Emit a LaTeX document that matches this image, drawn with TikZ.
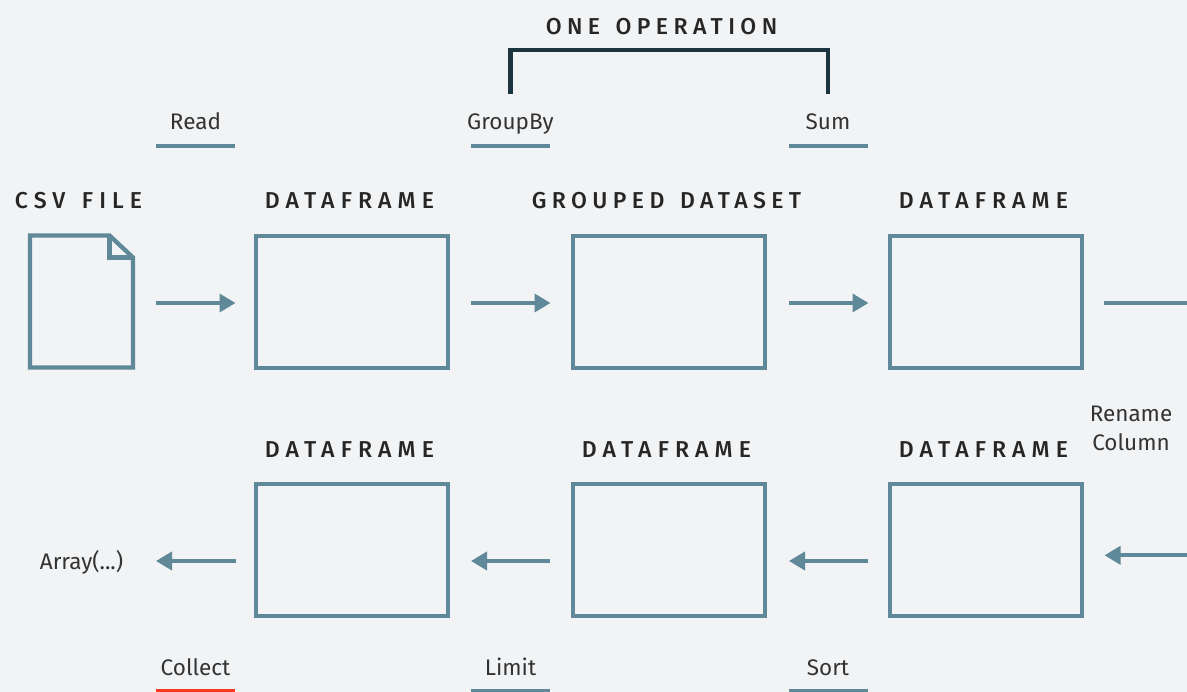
\documentclass[tikz,border=0pt]{standalone}
\usepackage{fontspec}
\setmainfont{Fira Sans}
\newfontfamily\hdfont[LetterSpace=26.5,WordSpace=1.4]{Fira Sans Medium}
\newfontfamily\hdfontb[LetterSpace=23.5,WordSpace=1.4]{Fira Sans Medium}
\usetikzlibrary{arrows.meta}
\definecolor{bgc}{HTML}{F1F3F5}
\definecolor{teal}{HTML}{5F8898}
\definecolor{darkb}{HTML}{1B3540}
\definecolor{txt}{HTML}{333333}
\definecolor{redc}{HTML}{F83A22}
\tikzset{
  boxn/.style={draw=teal,line width=4.3pt,minimum width=192pt,minimum height=132pt,inner sep=0pt,outer sep=0pt},
  hd/.style={anchor=base,font=\hdfont\fontsize{23}{23}\selectfont,text=black!85,inner sep=0pt},
  hdb/.style={anchor=base,font=\hdfontb\fontsize{23}{23}\selectfont,text=black!85,inner sep=0pt},
  lbl/.style={anchor=base,font=\fontsize{22.5}{29}\selectfont,text=txt,inner sep=0pt,align=center},
  under/.style={draw=teal,line width=3.7pt},
  conn/.style={draw=teal,line width=3.7pt,-{Triangle[length=16pt,width=18pt]}},
  plainline/.style={draw=teal,line width=3.7pt},
}
\begin{document}
\begin{tikzpicture}[x=1pt,y=-1pt]
\useasboundingbox (0,0) rectangle (1187,692);
\fill[bgc] (0,0) rectangle (1187,692);
\clip (0,0) rectangle (1187,692);
% file
\node[minimum width=103pt,minimum height=132pt,inner sep=0pt,outer sep=0pt] (file) at (81.5,301.5) {};
\draw[teal,line width=4.3pt,miter limit=10] (30,235.5) -- (109.5,235.5) -- (133,257.5) -- (133,367.5) -- (30,367.5) -- cycle;
\draw[teal,line width=4.3pt] (109.5,235.5) -- (109.5,257.5) -- (133,257.5);
% boxes
\node[boxn] (a1) at (352,301.7) {};
\node[boxn] (a2) at (669.2,301.7) {};
\node[boxn] (a3) at (986,301.7) {};
\node[boxn] (b3) at (986,550) {};
\node[boxn] (b2) at (669.2,550) {};
\node[boxn] (b1) at (352,550) {};
% headers
\node[hd] (hfile) at (78.5,209) {CSV FILE};
\node[hd] (h1) at (349.5,209) {DATAFRAME};
\node[hdb] (h2) at (666.5,209) {GROUPED DATASET};
\node[hd] (h3) at (983.5,209) {DATAFRAME};
\node[hd] (h4) at (349.5,458) {DATAFRAME};
\node[hd] (h5) at (666.5,458) {DATAFRAME};
\node[hd] (h6) at (983.5,458) {DATAFRAME};
\node[hdb] (hop) at (661.5,35) {ONE OPERATION};
% labels
\node[lbl] (read) at (195.5,130) {Read};
\node[lbl] (group) at (510.5,130) {GroupBy};
\node[lbl] (sum) at (828,130) {Sum};
\node[lbl] (collect) at (195.5,675) {Collect};
\node[lbl] (limit) at (510.5,675) {Limit};
\node[lbl] (sort) at (828,675) {Sort};
\node[lbl] (arr) at (81.5,569.5) {Array(...)};
\node[lbl] (ren) at (1131,451) {Rename\\Column};
% underlines
\foreach \n/\x/\y in {u1/195.5/146,u2/510.5/146,u3/828.5/146,u5/510.5/690.5,u6/828.5/690.5}{
  \coordinate (\n l) at (\x-39.5,\y);
  \coordinate (\n r) at (\x+39.5,\y);
  \draw[under] (\n l) -- (\n r);
}
\coordinate (u4l) at (156,690.5);
\coordinate (u4r) at (235,690.5);
\draw[draw=redc,line width=3.7pt] (u4l) -- (u4r);
% bracket
\coordinate (brl) at (510.5,94);
\coordinate (brr) at (828,94);
\coordinate (brtl) at (510.5,50);
\coordinate (brtr) at (828,50);
\draw[darkb,line width=4.3pt] (brl) -- (brtl) -- (brtr) -- (brr);
% connectors
\coordinate (c1s) at (156,303); \coordinate (c1e) at (235.5,303);
\coordinate (c2s) at (471,303); \coordinate (c2e) at (550.5,303);
\coordinate (c3s) at (789,303); \coordinate (c3e) at (868.5,303);
\draw[conn] (c1s) -- (c1e);
\draw[conn] (c2s) -- (c2e);
\draw[conn] (c3s) -- (c3e);
\coordinate (c4s) at (1104,302.7); \coordinate (c4e) at (1187,302.7);
\draw[plainline] (c4s) -- (c4e);
\coordinate (d1s) at (1187,555.3); \coordinate (d1e) at (1104.5,555.3);
\draw[conn] (d1s) -- (d1e);
\coordinate (d2s) at (868,561); \coordinate (d2e) at (789,561);
\coordinate (d3s) at (550,561); \coordinate (d3e) at (471,561);
\coordinate (d4s) at (235.5,561); \coordinate (d4e) at (156,561);
\draw[conn] (d2s) -- (d2e);
\draw[conn] (d3s) -- (d3e);
\draw[conn] (d4s) -- (d4e);
\end{tikzpicture}
\end{document}
